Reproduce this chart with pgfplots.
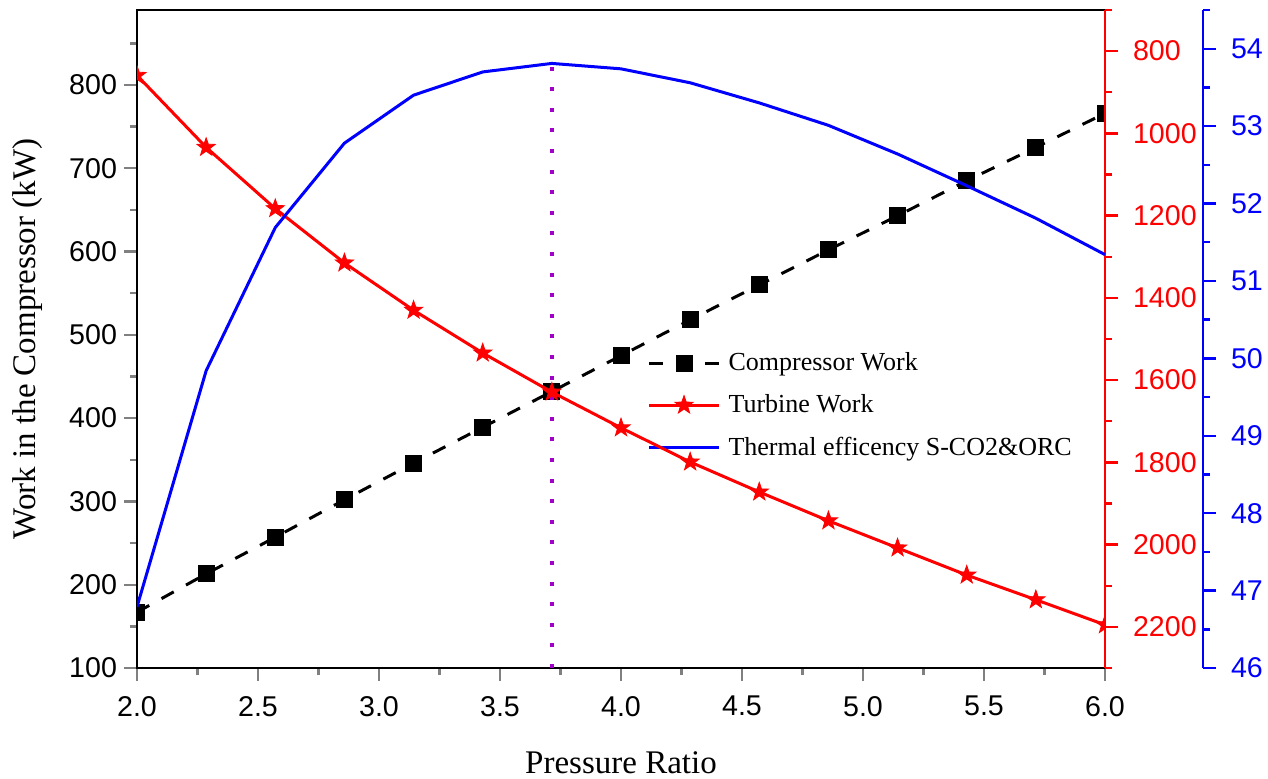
\documentclass[border=0pt]{standalone}
\usepackage{fontspec}
\setmainfont{Liberation Serif}
\newfontfamily\arial{Liberation Sans}
\usepackage{pgfplots}
\pgfplotsset{compat=1.18}

\pgfdeclareplotmark{fstar}{%
  \pgfpathmoveto{\pgfpointpolar{90}{\pgfplotmarksize}}%
  \pgfpathlineto{\pgfpointpolar{126}{0.40\pgfplotmarksize}}%
  \pgfpathlineto{\pgfpointpolar{162}{\pgfplotmarksize}}%
  \pgfpathlineto{\pgfpointpolar{198}{0.40\pgfplotmarksize}}%
  \pgfpathlineto{\pgfpointpolar{234}{\pgfplotmarksize}}%
  \pgfpathlineto{\pgfpointpolar{270}{0.40\pgfplotmarksize}}%
  \pgfpathlineto{\pgfpointpolar{306}{\pgfplotmarksize}}%
  \pgfpathlineto{\pgfpointpolar{342}{0.40\pgfplotmarksize}}%
  \pgfpathlineto{\pgfpointpolar{18}{\pgfplotmarksize}}%
  \pgfpathlineto{\pgfpointpolar{54}{0.40\pgfplotmarksize}}%
  \pgfpathclose
  \pgfusepathqfillstroke
}

\definecolor{vline}{RGB}{160,0,200}

\pgfplotsset{
  mybase/.style={
    scale only axis, width=484pt, height=329pt,
    xmin=2, xmax=6,
    clip marker paths=true,
    tick align=outside,
    major tick length=6.5pt, minor tick length=3.5pt,
    tick style={line width=1.2pt},
    axis line style={line width=1.2pt},
    ticklabel style={font=\arial\fontsize{14.3}{16}\selectfont},
    /pgf/number format/assume math mode=true,
    /pgf/number format/1000 sep={},
    scaled ticks=false,
  }
}

\pgfplotstableread{
x comp turb eff
2.000000 167 859 46.79
2.285714 213 1034 49.84
2.571429 257 1183 51.69
2.857143 302 1315 52.78
3.142857 346 1430 53.40
3.428571 389 1534 53.70
3.714286 432 1629 53.81
4.000000 475 1716 53.74
4.285714 518 1799 53.56
4.571429 560 1872 53.30
4.857143 602 1942 53.01
5.142857 643 2008 52.64
5.428571 685 2074 52.23
5.714286 725 2134 51.81
6.000000 766 2195 51.34
}\datatable

\begin{document}
\begin{tikzpicture}
\path[use as bounding box] (-68.5pt,-55pt) rectangle (565.5pt,334pt);

% main (left) axis
\begin{axis}[mybase,
  at={(0pt,0pt)}, anchor=south west,
  ymin=100, ymax=890,
  ytick={100,200,...,800},
  minor ytick={150,250,...,850},
  xtick={2,2.5,...,6},
  minor xtick={2.25,2.75,...,5.75},
  tick pos=left,
  xticklabel style={yshift=-4pt,/pgf/number format/fixed,/pgf/number format/fixed zerofill,/pgf/number format/precision=1},
  xlabel={Pressure Ratio},
  ylabel={Work in the Compressor (kW)},
  label style={font=\fontsize{16.5}{19}\selectfont},
  x label style={at={(axis description cs:0.5,-0.1444)}, anchor=center},
  y label style={at={(axis description cs:-0.1126,0.5)}, anchor=center},
  legend style={draw=none, fill=none, at={(axis description cs:0.527,0.486)}, anchor=north west,
    font=\fontsize{13}{15}\selectfont, row sep=6.5pt, inner sep=0pt,
    nodes={inner xsep=4pt}},
  legend cell align=left,
  legend image code/.code={\draw[mark repeat=2,mark phase=2,#1] plot coordinates {(0pt,0pt) (17.5pt,0pt) (35pt,0pt)};},
]
\addplot[black, line width=1.5pt, dash pattern=on 7pt off 7pt, mark=square*, mark size=3.5pt,
  mark options={solid, fill=black}] table[x=x, y=comp] {\datatable};
\addlegendentry{Compressor Work}
\addlegendimage{red, line width=1.5pt, mark=fstar, mark size=4.8pt, mark options={solid, fill=red, line width=0.4pt}}
\addlegendentry{Turbine Work}
\addlegendimage{blue, line width=1.5pt, no marks}
\addlegendentry{Thermal efficency S-CO2\&ORC}
\addplot[vline, line width=2pt, dash pattern=on 2pt off 8.3pt, forget plot] coordinates {(3.714286,100) (3.714286,821)};
\end{axis}

% red (right, reversed) axis
\begin{axis}[mybase,
  at={(0pt,0pt)}, anchor=south west,
  axis y line*=right, axis x line=none,
  y dir=reverse,
  ymin=700, ymax=2300,
  ytick={800,1000,...,2200},
  minor ytick={700,900,...,2300},
  y axis line style={red, line width=1.2pt},
  ytick style={red, line width=1.2pt},
  yticklabel style={red, xshift=4pt},
]
\addplot[red, line width=1.5pt, mark=fstar, mark size=4.8pt, mark options={solid, fill=red, line width=0.4pt}]
  table[x=x, y=turb] {\datatable};
\end{axis}

% blue axis (offset further right)
\begin{axis}[mybase,
  at={(0pt,0pt)}, anchor=south west,
  width=533pt, xmax=6.404959,
  axis y line*=right, axis x line=none,
  ymin=46, ymax=54.5,
  ytick={46,47,...,54},
  minor ytick={46.5,47.5,...,54.5},
  y axis line style={blue, line width=1.2pt},
  ytick style={blue, line width=1.2pt},
  yticklabel style={blue, xshift=4pt},
]
\addplot[blue, line width=1.5pt, no marks] table[x=x, y=eff] {\datatable};
\end{axis}
\end{tikzpicture}
\end{document}
